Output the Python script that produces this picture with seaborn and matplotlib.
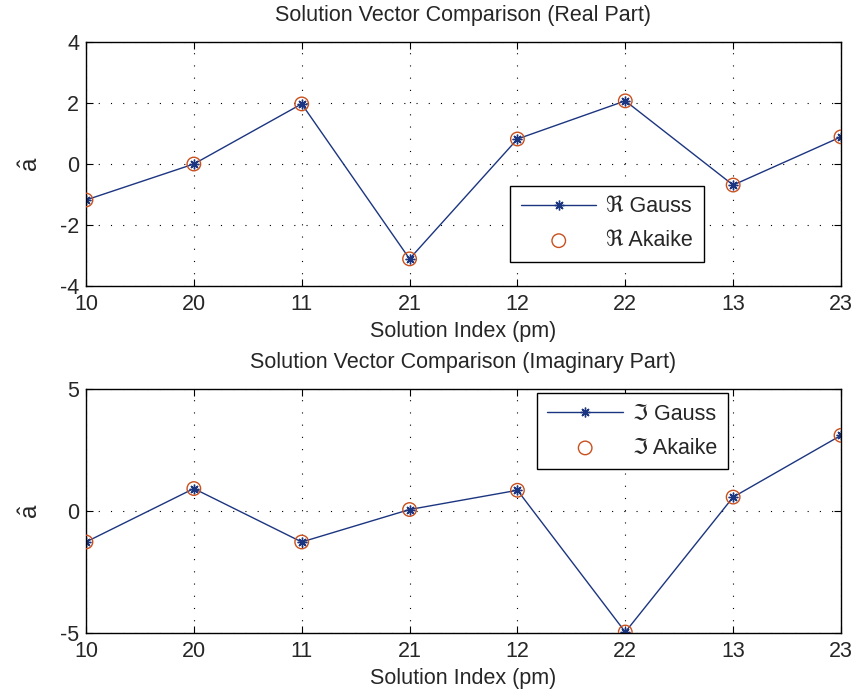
import matplotlib
matplotlib.use("Agg")
import matplotlib.pyplot as plt
import seaborn as sns
import pandas as pd
import numpy as np

# ---- data ----
index_labels = ["10", "20", "11", "21", "12", "22", "13", "23"]
real_gauss = [-1.18, 0.00, 1.97, -3.11, 0.82, 2.07, -0.69, 0.89]
real_akaike = [-1.18, 0.00, 1.97, -3.11, 0.82, 2.07, -0.69, 0.89]
imag_gauss = [-1.27, 0.92, -1.27, 0.06, 0.85, -4.96, 0.57, 3.10]
imag_akaike = [-1.27, 0.92, -1.27, 0.06, 0.85, -4.96, 0.57, 3.10]

sns.set_theme(style="white")
plt.rcParams["font.family"] = ["Liberation Sans", "DejaVu Sans"]
plt.rcParams["mathtext.fontset"] = "custom"
plt.rcParams["mathtext.rm"] = "Liberation Sans"
plt.rcParams["mathtext.it"] = "Liberation Sans"
plt.rcParams["axes.unicode_minus"] = True

FS = 15.5
GAUSS_C = "#1c3580"
AKAIKE_C = "#c8501e"

fig = plt.figure(figsize=(8.58, 7.0), dpi=100)
ax1 = fig.add_axes([0.1002, 0.5914, 0.880, 0.3486])
ax2 = fig.add_axes([0.1002, 0.0957, 0.880, 0.3486])

def draw(ax, gauss, akaike, sym, title, ylim, yticks, leg_loc, leg_anchor):
    df = pd.DataFrame({"pos": np.arange(len(index_labels)), "gauss": gauss, "akaike": akaike})
    sns.lineplot(data=df, x="pos", y="gauss", ax=ax, color=GAUSS_C, lw=1.0,
                 marker=(8, 2, 0), markersize=7, markeredgecolor=GAUSS_C,
                 markeredgewidth=1.0, label=f"{sym} Gauss")
    sns.scatterplot(data=df, x="pos", y="akaike", ax=ax, marker="o", s=95,
                    facecolors="none", edgecolor=AKAIKE_C, linewidth=1.0,
                    label=f"{sym} Akaike", zorder=3)
    ax.set_xlim(0, len(index_labels) - 1)
    ax.set_ylim(*ylim)
    ax.set_xticks(np.arange(len(index_labels)))
    ax.set_xticklabels(index_labels)
    ax.set_yticks(yticks)
    ax.set_yticklabels([str(t) for t in yticks])
    ax.tick_params(direction="in", length=5, width=0.8, labelsize=FS,
                   top=True, right=True, bottom=True, left=True, color="black")
    ax.tick_params(axis="x", pad=6)
    ax.tick_params(axis="y", pad=5)
    ax.grid(True, color="black", linestyle=(0, (1, 10)), linewidth=0.8)
    for s in ax.spines.values():
        s.set_visible(True)
        s.set_color("black")
        s.set_linewidth(1.0)
    ax.set_xlabel("Solution Index (pm)", fontsize=FS, labelpad=4)
    ax.set_ylabel(r"$\hat{a}$", fontsize=FS + 2, labelpad=12)
    ax.set_title(title, fontsize=FS, pad=15)
    leg = ax.legend(loc=leg_loc, bbox_to_anchor=leg_anchor, fontsize=FS,
                    frameon=True, fancybox=False, edgecolor="black",
                    handlelength=3.5, handletextpad=0.45, borderpad=0.5,
                    labelspacing=0.6, borderaxespad=0)
    leg.get_frame().set_linewidth(1.0)
    leg.get_frame().set_facecolor("white")
    leg.get_frame().set_alpha(1)

draw(ax1, real_gauss, real_akaike, "\u211C", "Solution Vector Comparison (Real Part)",
     (-4, 4), [-4, -2, 0, 2, 4], "lower left", (0.562, 0.098))
draw(ax2, imag_gauss, imag_akaike, "\u2111", "Solution Vector Comparison (Imaginary Part)",
     (-5, 5), [-5, 0, 5], "upper left", (0.597, 0.984))

fig.savefig("out.png", dpi=100, facecolor="white")
